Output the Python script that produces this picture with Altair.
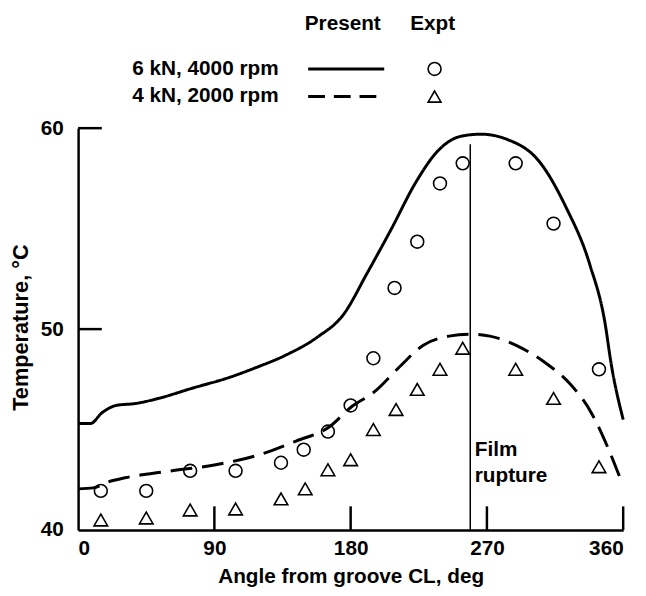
import altair as alt
import pandas as pd

# ---------------- data ----------------
series = ["6 kN, 4000 rpm", "4 kN, 2000 rpm"]

solid_angle = [0, 8, 16, 25, 38, 53, 75, 100, 118, 137, 158, 175, 191, 207, 223, 238, 253, 266, 283, 305, 322, 338, 348, 352, 360]
solid_temp = [45.3, 45.3, 45.85, 46.2, 46.3, 46.55, 47.05, 47.6, 48.1, 48.7, 49.6, 50.7, 52.8, 55.0, 57.3, 58.9, 59.6, 59.7, 59.45, 58.3, 56.1, 53.2, 50.3, 48.3, 45.5]

dashed_angle = [0, 10, 20, 31, 59, 90, 118, 144, 166, 180, 196, 212, 228, 245, 259, 272, 290, 309, 325, 339, 350, 358]
dashed_temp = [42.05, 42.1, 42.4, 42.6, 42.92, 43.24, 43.71, 44.43, 45.14, 46.1, 46.9, 48.1, 49.2, 49.65, 49.75, 49.65, 49.17, 48.3, 47.27, 45.83, 44.08, 42.58]

circle_angle = [15, 45, 74, 104, 134, 149, 165, 180, 195, 209, 224, 239, 254, 289, 314, 344]
circle_temp = [41.95, 41.95, 42.95, 42.95, 43.35, 44.0, 44.9, 46.2, 48.55, 52.05, 54.35, 57.25, 58.25, 58.25, 55.25, 48.0]

triangle_angle = [15, 45, 74, 104, 134, 150, 165, 180, 195, 210, 224, 239, 254, 289, 314, 344]
triangle_temp = [40.5, 40.6, 41.0, 41.05, 41.55, 42.05, 43.0, 43.5, 45.0, 46.0, 47.0, 48.0, 49.05, 48.0, 46.55, 43.15]

x_ticks = [0, 90, 180, 270, 360]
y_ticks = [40, 50, 60]

rupture_angle = [259]
rupture_bottom = [40]
rupture_top = [59.2]
rupture_label_angle = [262, 262]
rupture_label_temp = [44.0, 42.7]
rupture_label = ["Film", "rupture"]

legend_headers = ["Present", "Expt"]

# ---------------- styling ----------------
FONT = "Liberation Sans"
W, H = 552, 407
FS = 21
TICK = 24

xscale = alt.Scale(domain=[0, 360], nice=False, zero=False)
yscale = alt.Scale(domain=[40, 60], nice=False, zero=False)

xaxis = alt.Axis(values=x_ticks, ticks=False, tickSize=0, grid=False, format="d",
                 labelPadding=8, labelFontSize=FS, labelFontWeight="bold", labelFont=FONT,
                 labelColor="black", title="Angle from groove CL, deg",
                 titleFont=FONT, titleFontSize=FS, titleFontWeight="bold", titleColor="black",
                 titleX=W / 2, titleY=53, titleBaseline="alphabetic", titleAnchor="middle",
                 domainColor="black", domainWidth=2.5)
yaxis = alt.Axis(values=y_ticks, ticks=False, tickSize=0, grid=False, format="d",
                 labelPadding=15, labelFontSize=FS, labelFontWeight="bold", labelFont=FONT,
                 labelColor="black", title="Temperature, °C",
                 titleFont=FONT, titleFontSize=22, titleFontWeight="bold", titleColor="black",
                 titleX=-58, titleY=H / 2 - 2, titleBaseline="middle", titleAngle=270,
                 titleAnchor="middle",
                 domainColor="black", domainWidth=2.5)

X = alt.X("angle:Q", scale=xscale, axis=xaxis)
Y = alt.Y("temp:Q", scale=yscale, axis=yaxis)

curves = pd.concat([
    pd.DataFrame({"angle": solid_angle, "temp": solid_temp, "series": series[0]}),
    pd.DataFrame({"angle": dashed_angle, "temp": dashed_temp, "series": series[1]}),
])
circles = pd.DataFrame({"angle": circle_angle, "temp": circle_temp})
triangles = pd.DataFrame({"angle": triangle_angle, "temp": triangle_temp})
xt = pd.DataFrame({"angle": x_ticks[1:]})
yt = pd.DataFrame({"temp": y_ticks[1:]})
rupture = pd.DataFrame({"angle": rupture_angle, "temp": rupture_bottom, "temp2": rupture_top})
rupture_txt = pd.DataFrame({"angle": rupture_label_angle, "temp": rupture_label_temp, "label": rupture_label})

dash_scale = alt.Scale(domain=series, range=[[1, 0], [22, 10]])

line_layer = alt.Chart(curves).mark_line(color="black", strokeWidth=3, interpolate="monotone").encode(
    x=X, y=Y,
    strokeDash=alt.StrokeDash("series:N", scale=dash_scale, legend=None),
    detail="series:N",
)
circle_layer = alt.Chart(circles).mark_point(shape="circle", size=170, filled=False, color="black", strokeWidth=1.6, opacity=1).encode(x=X, y=Y)
tri_layer = alt.Chart(triangles).mark_point(shape="triangle-up", size=190, filled=False, color="black", strokeWidth=1.6, opacity=1).encode(x=X, y=Y)

xtick_layer = alt.Chart(xt).mark_rule(color="black", strokeWidth=2.5).encode(
    x=X, y=alt.value(H), y2=alt.value(H - TICK))
ytick_layer = alt.Chart(yt).mark_rule(color="black", strokeWidth=2.5).encode(
    y=Y, x=alt.value(0), x2=alt.value(TICK))

rupture_layer = alt.Chart(rupture).mark_rule(color="black", strokeWidth=1.5).encode(
    x=X, y=Y, y2=alt.Y2("temp2:Q"))
rupture_text = alt.Chart(rupture_txt).mark_text(align="left", baseline="middle", font=FONT, fontSize=FS,
                                                fontWeight="bold", color="black").encode(x=X, y=Y, text="label:N")

# ---------------- legend (header + two rows), placed above the plot ----------------
txt_kw = dict(baseline="middle", font=FONT, fontSize=FS, fontWeight="bold", color="black")
HDR_Y = -105
ROW_Y = [-60, -32]
HDR_X = [268, 359]
LINE_X = [233, 310]
SYM_X = 361
TEXT_X = 203

legend_layers = []
for hx, h in zip(HDR_X, legend_headers):
    legend_layers.append(
        alt.Chart(pd.DataFrame({"label": [h]})).mark_text(align="center", **txt_kw).encode(
            x=alt.value(hx), y=alt.value(HDR_Y), text="label:N"))

leg_dash = [[1, 0], [17, 9]]
leg_shape = ["circle", "triangle-up"]
for i, s in enumerate(series):
    row = pd.DataFrame({"series": [s]})
    legend_layers.append(
        alt.Chart(row).mark_text(align="right", **txt_kw).encode(
            x=alt.value(TEXT_X), y=alt.value(ROW_Y[i]), text="series:N"))
    legend_layers.append(
        alt.Chart(row).mark_rule(color="black", strokeWidth=3, strokeDash=leg_dash[i]).encode(
            x=alt.value(LINE_X[0]), x2=alt.value(LINE_X[1]), y=alt.value(ROW_Y[i])))
    legend_layers.append(
        alt.Chart(row).mark_point(shape=leg_shape[i], filled=False, color="black", strokeWidth=1.6,
                                  opacity=1, size=170).encode(
            x=alt.value(SYM_X), y=alt.value(ROW_Y[i])))

chart = alt.layer(
    line_layer, circle_layer, tri_layer, xtick_layer, ytick_layer, rupture_layer, rupture_text,
    *legend_layers,
).properties(
    width=W, height=H,
    autosize=alt.AutoSizeParams(type="none"),
    padding={"left": 71, "top": 118, "right": 15, "bottom": 56},
    background="white",
).configure_view(stroke=None)

chart.save("out.html", embed_options={"renderer": "svg", "actions": False})
